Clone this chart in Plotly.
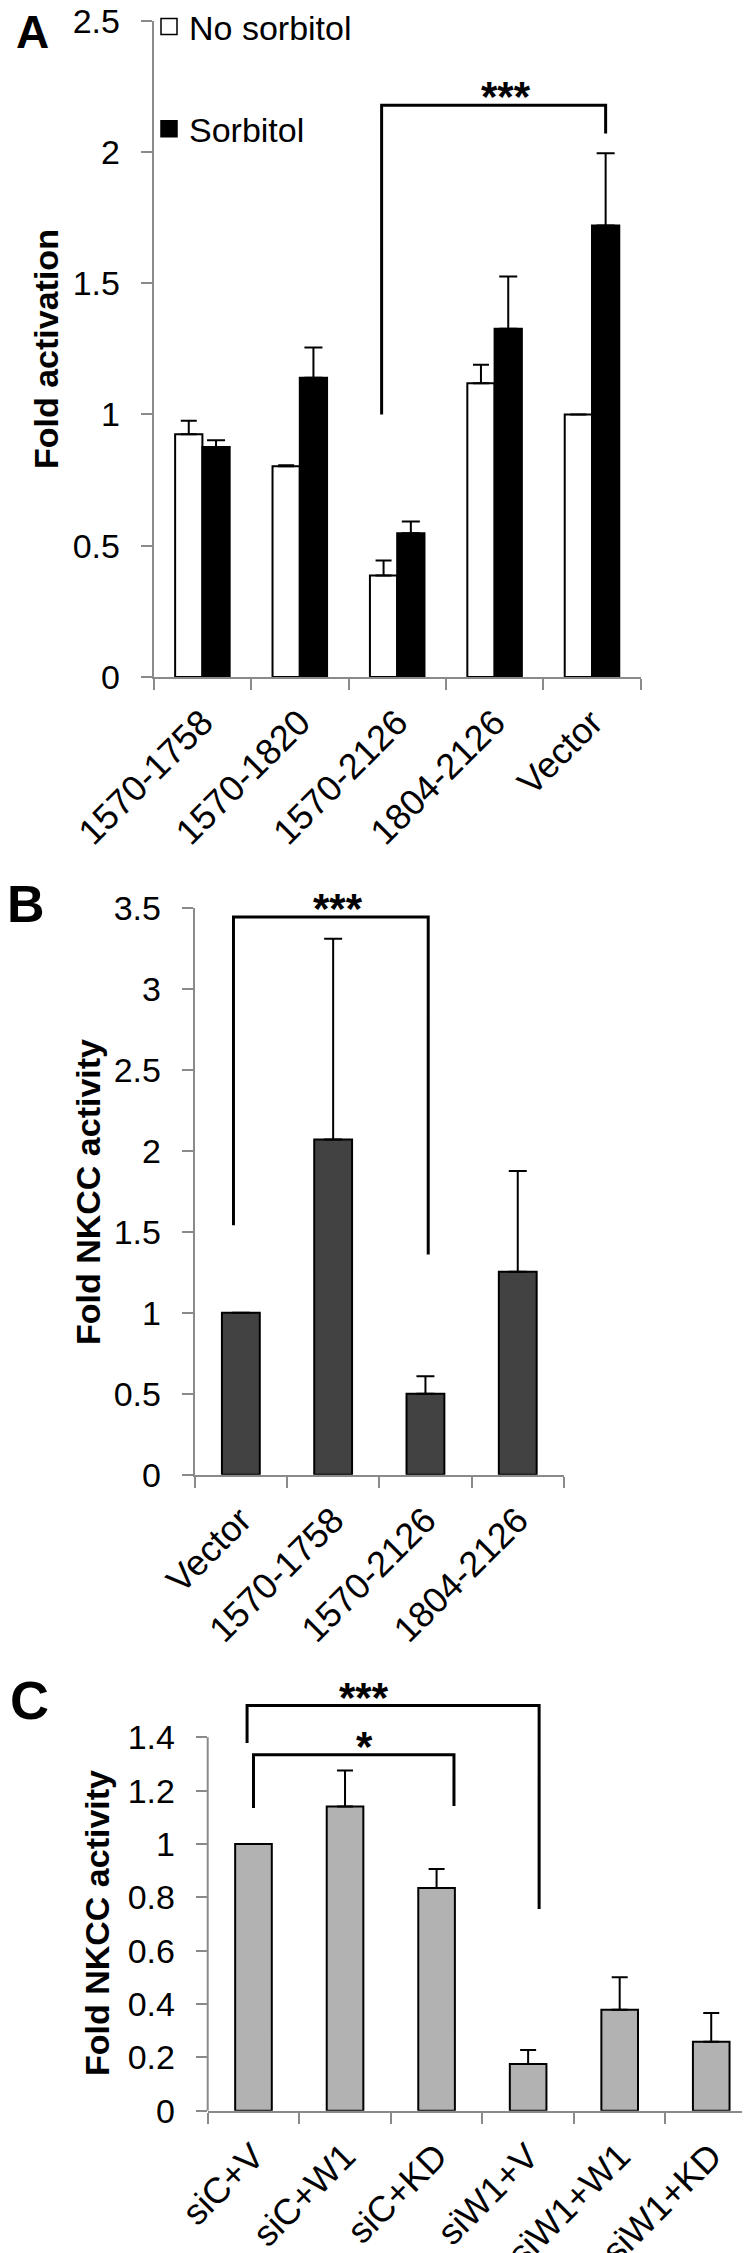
import plotly.graph_objects as go

W, H = 750, 2253

# ---------------- Panel A data ----------------
a_categories = ["1570-1758", "1570-1820", "1570-2126", "1804-2126", "Vector"]
a_no_sorbitol = [0.925, 0.803, 0.387, 1.119, 1.0]
a_no_sorbitol_err = [0.051, 0.004, 0.057, 0.070, 0.0]
a_sorbitol = [0.876, 1.140, 0.548, 1.327, 1.720]
a_sorbitol_err = [0.026, 0.115, 0.044, 0.199, 0.275]
a_yticks = [0, 0.5, 1, 1.5, 2, 2.5]
# bracket: x positions (category index units), y: [left bottom, top, right bottom]
a_bracket_x = [1.84, 4.14]
a_bracket_y = [1.0, 2.178, 2.07]
a_bracket_label = "***"
a_label_x = 3.12

# ---------------- Panel B data ----------------
b_categories = ["Vector", "1570-1758", "1570-2126", "1804-2126"]
b_values = [1.0, 2.07, 0.50, 1.254]
b_err = [0.0, 1.24, 0.108, 0.622]
b_yticks = [0, 0.5, 1, 1.5, 2, 2.5, 3, 3.5]
b_bracket_x = [-0.08, 2.03]
b_bracket_y = [1.54, 3.445, 1.36]
b_bracket_label = "***"
b_label_x = 1.055

# ---------------- Panel C data ----------------
c_categories = ["siC+V", "siC+W1", "siC+KD", "siW1+V", "siW1+W1", "siW1+KD"]
c_values = [1.0, 1.141, 0.835, 0.175, 0.379, 0.259]
c_err = [0.0, 0.135, 0.071, 0.053, 0.121, 0.107]
c_yticks = [0, 0.2, 0.4, 0.6, 0.8, 1.0, 1.2, 1.4]
c_bracket1_x = [-0.07, 3.12]
c_bracket1_y = [1.379, 1.519, 0.756]
c_bracket1_label = "***"
c_bracket2_x = [0.0, 2.19]
c_bracket2_y = [1.135, 1.335, 1.143]
c_bracket2_label = "*"
c_label_x = 1.21


def px_x(p):
    return p / W


def px_y(p):
    return 1 - p / H


AXC = "#8a8a8a"
FAM = "Liberation Sans, Arial"
TICKFONT = dict(family=FAM, size=34, color="black")
XTICKFONT = dict(family=FAM, size=36, color="black")
BOLD = dict(family=FAM, size=34, color="black", weight="bold")

fig = go.Figure()

# ---- Panel A bars ----
fig.add_trace(go.Bar(
    x=a_categories, y=a_no_sorbitol, name="No sorbitol", showlegend=False,
    marker=dict(color="white", line=dict(color="black", width=2)),
    offset=-0.28, width=0.28,
    error_y=dict(type="data", symmetric=False, array=a_no_sorbitol_err,
                 arrayminus=[0] * len(a_no_sorbitol_err), color="black", thickness=2, width=8),
    xaxis="x", yaxis="y"))
fig.add_trace(go.Bar(
    x=a_categories, y=a_sorbitol, name="Sorbitol", showlegend=False,
    marker=dict(color="black", line=dict(color="black", width=2)),
    offset=0.0, width=0.28,
    error_y=dict(type="data", symmetric=False, array=a_sorbitol_err,
                 arrayminus=[0] * len(a_sorbitol_err), color="black", thickness=2, width=9),
    xaxis="x", yaxis="y"))

# legend entries (square swatches like the original key)
fig.add_trace(go.Scatter(x=[None], y=[None], mode="markers", name="No sorbitol", legendgroup="g1",
                         marker=dict(symbol="square", size=16, color="white",
                                     line=dict(color="black", width=1.5)),
                         xaxis="x", yaxis="y"))
fig.add_trace(go.Scatter(x=[None], y=[None], mode="markers", name="Sorbitol", legendgroup="g2",
                         marker=dict(symbol="square", size=16, color="black",
                                     line=dict(color="black", width=1.5)),
                         xaxis="x", yaxis="y"))

# ---- Panel B bars ----
fig.add_trace(go.Bar(
    x=b_categories, y=b_values, showlegend=False, width=0.41,
    marker=dict(color="#424242", line=dict(color="black", width=2)),
    error_y=dict(type="data", symmetric=False, array=b_err,
                 arrayminus=[0] * len(b_err), color="black", thickness=2, width=9),
    xaxis="x2", yaxis="y2"))

# ---- Panel C bars ----
fig.add_trace(go.Bar(
    x=c_categories, y=c_values, showlegend=False, width=0.40,
    marker=dict(color="#b2b2b2", line=dict(color="black", width=2)),
    error_y=dict(type="data", symmetric=False, array=c_err,
                 arrayminus=[0] * len(c_err), color="black", thickness=2, width=8),
    xaxis="x3", yaxis="y3"))


def xaxis_cfg(n, dom):
    return dict(domain=dom, type="category", range=[-0.5, n - 0.5], automargin=False,
                showline=True, linecolor=AXC, linewidth=2,
                ticks="outside", tickson="boundaries", ticklen=11, tickwidth=2,
                tickcolor=AXC, tickangle=-45, tickfont=XTICKFONT, showgrid=False,
                ticklabelstandoff=8, ticklabeloverflow="allow")


def yaxis_cfg(rng, dom, tv, showline=True):
    return dict(domain=dom, range=rng, tickvals=tv, showline=showline, linecolor=AXC,
                linewidth=2, ticks="outside", ticklen=11, tickwidth=2, tickcolor=AXC,
                tickfont=TICKFONT, showgrid=False, zeroline=False, ticklabelstandoff=14,
                automargin=False, ticklabeloverflow="allow")


fig.update_layout(
    template="none",
    width=W, height=H, margin=dict(l=0, r=0, t=0, b=0, autoexpand=False),
    paper_bgcolor="white", plot_bgcolor="white",
    barmode="overlay",
    xaxis=xaxis_cfg(len(a_categories), [px_x(145.7), px_x(632.7)]),
    yaxis=dict(yaxis_cfg([0, 2.5], [px_y(669), px_y(12.7)], a_yticks), anchor="x"),
    xaxis2=dict(xaxis_cfg(len(b_categories), [px_x(186.7), px_x(555.9)]), anchor="y2"),
    yaxis2=dict(yaxis_cfg([0, 3.5], [px_y(1466.7), px_y(900)], b_yticks), anchor="x2"),
    xaxis3=dict(xaxis_cfg(len(c_categories), [px_x(199.7), px_x(749)]), anchor="y3"),
    yaxis3=dict(yaxis_cfg([0, 1.6], [px_y(2102.7), px_y(1676)], c_yticks, showline=False), anchor="x3"),
    legend=dict(x=px_x(141), y=px_y(-10), xanchor="left", yanchor="top",
                bgcolor="rgba(0,0,0,0)", font=dict(family=FAM, size=34, color="black"),
                tracegroupgap=55, traceorder="grouped", itemwidth=30),
    showlegend=True,
)

shapes = []
# C y-axis line drawn only up to its top tick
shapes.append(dict(type="line", xref="x3 domain", yref="y3", x0=0, x1=0,
                   y0=c_yticks[0], y1=c_yticks[-1], line=dict(color=AXC, width=2)))


def bracket(xr, yr, bx, by):
    return dict(type="path", xref=xr, yref=yr,
                path=f"M {bx[0]},{by[0]} L {bx[0]},{by[1]} L {bx[1]},{by[1]} L {bx[1]},{by[2]}",
                line=dict(color="black", width=3))


shapes.append(bracket("x", "y", a_bracket_x, a_bracket_y))
shapes.append(bracket("x2", "y2", b_bracket_x, b_bracket_y))
shapes.append(bracket("x3", "y3", c_bracket1_x, c_bracket1_y))
shapes.append(bracket("x3", "y3", c_bracket2_x, c_bracket2_y))
fig.update_layout(shapes=shapes)

ann = []
STAR = dict(family=FAM, size=42, color="black", weight="bold")
for xr, yr, lx, ly, lab in [("x", "y", a_label_x, a_bracket_y[1], a_bracket_label),
                            ("x2", "y2", b_label_x, b_bracket_y[1], b_bracket_label),
                            ("x3", "y3", c_label_x, c_bracket1_y[1], c_bracket1_label),
                            ("x3", "y3", c_label_x, c_bracket2_y[1], c_bracket2_label)]:
    ann.append(dict(xref=xr, yref=yr, x=lx, y=ly, text=lab, showarrow=False,
                    xanchor="center", yanchor="bottom", yshift=-17, font=STAR))

# panel letters
for t, cx, cy, s in [("A", 24, 24, 46), ("B", 18, 896, 52), ("C", 21, 1692, 54)]:
    ann.append(dict(xref="paper", yref="paper", x=px_x(cx), y=px_y(cy), text=t, showarrow=False,
                    xanchor="center", yanchor="middle",
                    font=dict(family=FAM, size=s, color="black", weight="bold")))

# y-axis titles
for t, cx, cy in [("Fold activation", 38, 341), ("Fold NKCC activity", 80, 1184),
                  ("Fold NKCC activity", 89, 1915)]:
    ann.append(dict(xref="paper", yref="paper", x=px_x(cx), y=px_y(cy), text=t, showarrow=False,
                    textangle=-90, xanchor="center", yanchor="middle", font=BOLD))

fig.update_layout(annotations=ann)

fig.write_html("out.html")
